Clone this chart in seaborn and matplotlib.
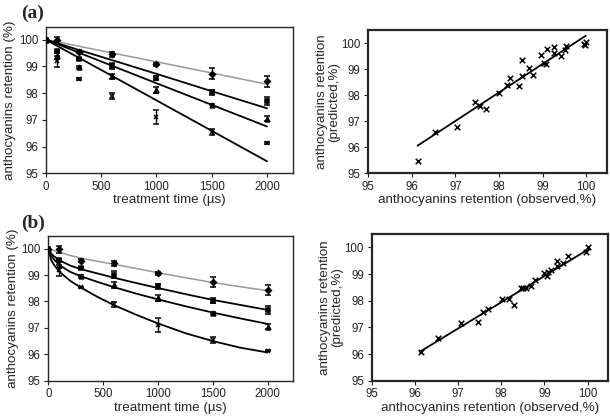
import matplotlib
matplotlib.use("Agg")
import matplotlib.pyplot as plt
import numpy as np
import pandas as pd
import seaborn as sns

sns.set_style("ticks")
plt.rcParams.update({'font.family': ['Liberation Sans', 'DejaVu Sans'],
                     'font.size': 9.6,
                     'xtick.labelsize': 8.3,
                     'ytick.labelsize': 8.3,
                     'axes.linewidth': 1.0,
                     'xtick.major.size': 3,
                     'ytick.major.size': 3,
                     'xtick.major.pad': 2.5,
                     'ytick.major.pad': 2.5,
                     'xtick.color': '#222222',
                     'ytick.color': '#222222'})

# experimental data (same in both panels)
t = [0, 100, 300, 600, 1000, 1500, 2000]
diamond = [100, 99.97, 99.55, 99.45, 99.07, 98.73, 98.44]
square = [100, 99.57, 99.27, 99.02, 98.57, 98.03, 97.69]
triangle = [100, 99.38, 98.97, 98.62, 98.12, 97.57, 97.04]
cross = [100, 99.18, 98.53, 97.89, 97.11, 96.54, 96.14]
diamond_err = [0.03, 0.13, 0.05, 0.10, 0.05, 0.20, 0.20]
square_err = [0.03, 0.05, 0.04, 0.12, 0.08, 0.10, 0.15]
triangle_err = [0.03, 0.10, 0.04, 0.10, 0.12, 0.03, 0.10]
cross_err = [0.03, 0.20, 0.03, 0.10, 0.25, 0.10, 0.03]

# model (a): first-order fits
fit_a_diamond = [100, 99.92, 99.75, 99.50, 99.17, 98.75, 98.33]
fit_a_square = [100, 99.87, 99.61, 99.23, 98.72, 98.07, 97.43]
fit_a_triangle = [100, 99.84, 99.51, 99.02, 98.37, 97.56, 96.75]
fit_a_cross = [100, 99.77, 99.32, 98.64, 97.73, 96.59, 95.45]

# model (b): Weibull fits
t_b = [0, 25, 50, 100, 200, 300, 450, 600, 800, 1000, 1250, 1500, 1750, 2000]
fit_b_diamond = [100, 99.96, 99.93, 99.87, 99.74, 99.64, 99.52, 99.41, 99.25, 99.09, 98.90, 98.72, 98.56, 98.41]
fit_b_square = [100, 99.82, 99.72, 99.56, 99.36, 99.22, 99.06, 98.90, 98.70, 98.51, 98.28, 98.06, 97.87, 97.68]
fit_b_triangle = [100, 99.74, 99.60, 99.38, 99.12, 98.95, 98.74, 98.54, 98.30, 98.08, 97.82, 97.58, 97.36, 97.15]
fit_b_cross = [100, 99.58, 99.40, 99.13, 98.78, 98.52, 98.17, 97.86, 97.50, 97.17, 96.80, 96.50, 96.25, 96.07]

# observed vs predicted
obs_a = [96.13, 96.53, 97.04, 97.45, 97.57, 97.69, 98.01, 98.18, 98.26, 98.45, 98.52, 98.53, 98.68,
         98.77, 98.96, 99.04, 99.07, 99.10, 99.27, 99.25, 99.43, 99.54, 99.52, 99.95, 100.0, 99.98]
pred_a = [95.47, 96.58, 96.79, 97.73, 97.59, 97.45, 98.09, 98.38, 98.64, 98.36, 99.33, 98.73, 99.04,
          98.76, 99.54, 99.23, 99.19, 99.78, 99.85, 99.62, 99.50, 99.88, 99.74, 99.97, 100.04, 99.94]
line_a_x = [96.13, 99.99]
line_a_y = [96.06, 100.28]

obs_b = [96.15, 96.53, 97.07, 97.46, 97.58, 97.70, 98.02, 98.19, 98.29, 98.46, 98.51, 98.57,
         98.68, 98.78, 98.99, 99.05, 99.09, 99.16, 99.28, 99.29, 99.43, 99.55, 99.97, 100.01]
pred_b = [96.08, 96.59, 97.16, 97.21, 97.56, 97.70, 98.06, 98.05, 97.85, 98.46, 98.49, 98.46,
          98.55, 98.78, 99.03, 98.94, 99.09, 99.15, 99.49, 99.31, 99.40, 99.69, 99.84, 100.03]
line_b_x = [96.11, 100.05]
line_b_y = [96.08, 99.96]

fig = plt.figure(figsize=(6.1, 4.16), dpi=100)
ax1 = fig.add_axes([0.0749, 0.5834, 0.4054, 0.3524])
ax2 = fig.add_axes([0.6038, 0.5834, 0.3908, 0.3445])
ax3 = fig.add_axes([0.0792, 0.0849, 0.4016, 0.3478])
ax4 = fig.add_axes([0.6093, 0.0849, 0.3874, 0.3526])

series = [(diamond, diamond_err, 'D', 3), (square, square_err, 's', 3),
          (triangle, triangle_err, '^', 3.5), (cross, cross_err, 'x', 3.5)]


def kinetics(ax, tt, fits):
    colors = ['#999999', 'black', 'black', 'black']
    for f, c in zip(fits, colors):
        sns.lineplot(x=tt, y=f, ax=ax, color=c, lw=1.3 if c == 'black' else 1.1)
    for (vals, err, m, ms) in series:
        ax.errorbar(t, vals, yerr=err, fmt=m, color='black', ms=ms, mew=1.1,
                    elinewidth=1, capsize=2.5, capthick=1, zorder=3)
    ax.set_xlim(0, 2235)
    ax.set_ylim(95, 100.48)
    ax.set_xticks([0, 500, 1000, 1500, 2000])
    ax.set_yticks([95, 96, 97, 98, 99, 100])
    ax.set_xlabel('treatment time (µs)', labelpad=1)
    ax.set_ylabel('anthocyanins retention (%)', labelpad=2)


def parity(ax, obs, pred, lx, ly):
    sns.scatterplot(x=obs, y=pred, ax=ax, marker='x', color='black', s=16, linewidth=1.1)
    sns.lineplot(x=lx, y=ly, ax=ax, color='black', lw=1.3)
    ax.set_xlim(95, 100.47)
    ax.set_ylim(95, 100.5)
    ax.set_xticks([95, 96, 97, 98, 99, 100])
    ax.set_yticks([95, 96, 97, 98, 99, 100])
    ax.set_xlabel('anthocyanins retention (observed,%)', labelpad=1)
    ax.set_ylabel('anthocyanins retention\n(predicted,%)', labelpad=1, linespacing=1.0)
    for s in ax.spines.values():
        s.set_linewidth(1.6)


kinetics(ax1, t, [fit_a_diamond, fit_a_square, fit_a_triangle, fit_a_cross])
kinetics(ax3, t_b, [fit_b_diamond, fit_b_square, fit_b_triangle, fit_b_cross])
parity(ax2, obs_a, pred_a, line_a_x, line_a_y)
parity(ax4, obs_b, pred_b, line_b_x, line_b_y)

fig.text(0.034, 0.988, '(a)', family='Liberation Serif', weight='bold', fontsize=14, va='top')
fig.text(0.034, 0.484, '(b)', family='Liberation Serif', weight='bold', fontsize=14, va='top')

fig.savefig('out.png', dpi=100)
